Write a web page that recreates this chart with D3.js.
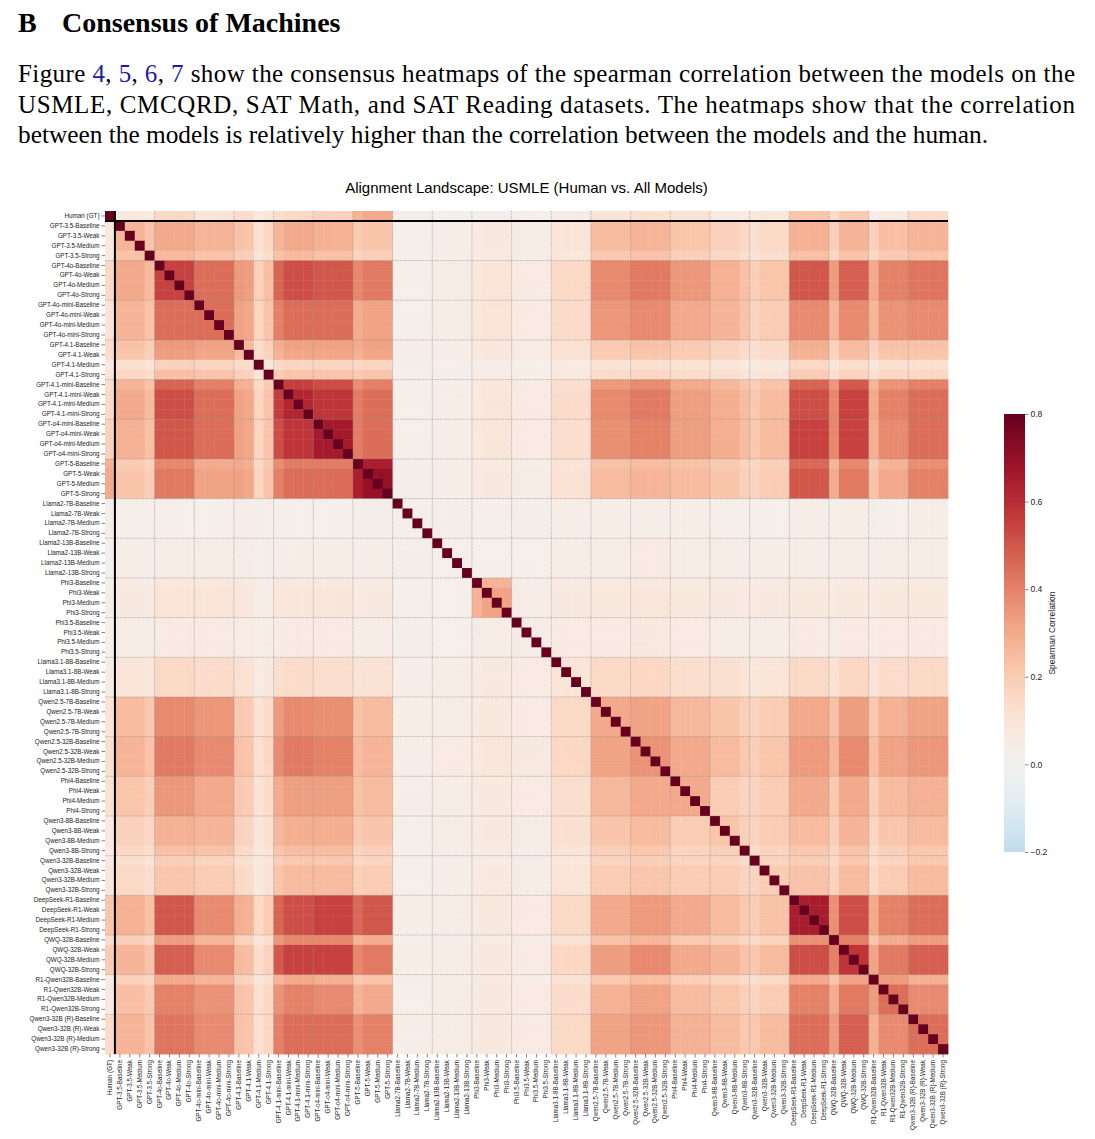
<!DOCTYPE html>
<html>
<head>
<meta charset="utf-8">
<script src="https://cdn.jsdelivr.net/npm/d3@7"></script>
<style>
  html, body { margin: 0; padding: 0; background: #fff; }
  svg { display: block; }
</style>
</head>
<body>
<div id="chart"></div>
<script>
// ---------- data ----------
const groups = ["Human (GT)", "GPT-3.5", "GPT-4o", "GPT-4o-mini", "GPT-4.1", "GPT-4.1-mini", "GPT-o4-mini", "GPT-5",
  "Llama2-7B", "Llama2-13B", "Phi3", "Phi3.5", "Llama3.1-8B", "Qwen2.5-7B", "Qwen2.5-32B", "Phi4",
  "Qwen3-8B", "Qwen3-32B", "DeepSeek-R1", "QWQ-32B", "R1-Qwen32B", "Qwen3-32B (R)"];
const levels = ["Baseline", "Weak", "Medium", "Strong"];

// group-to-group mean Spearman correlation (lower triangle)
const groupCorrLower = [
  [1.00],
  [0.08, 0.27],
  [0.15, 0.30, 0.55],
  [0.10, 0.27, 0.45, 0.45],
  [0.12, 0.20, 0.30, 0.28, 0.20],
  [0.15, 0.30, 0.52, 0.45, 0.28, 0.62],
  [0.18, 0.28, 0.50, 0.45, 0.28, 0.58, 0.66],
  [0.30, 0.22, 0.42, 0.32, 0.28, 0.45, 0.45, 0.70],
  [0.02, 0.03, 0.03, 0.03, 0.03, 0.03, 0.03, 0.02, 0.03],
  [0.01, 0.04, 0.05, 0.05, 0.04, 0.04, 0.04, 0.04, 0.02, 0.03],
  [0.02, 0.07, 0.10, 0.10, 0.07, 0.09, 0.09, 0.07, 0.03, 0.03, 0.32],
  [0.03, 0.05, 0.06, 0.06, 0.05, 0.06, 0.06, 0.05, 0.02, 0.03, 0.05, 0.05],
  [0.05, 0.10, 0.15, 0.14, 0.10, 0.14, 0.13, 0.11, 0.04, 0.05, 0.07, 0.06, 0.10],
  [0.10, 0.25, 0.38, 0.35, 0.18, 0.38, 0.37, 0.25, 0.04, 0.05, 0.08, 0.06, 0.15, 0.30],
  [0.12, 0.27, 0.42, 0.38, 0.20, 0.42, 0.40, 0.27, 0.04, 0.06, 0.09, 0.07, 0.16, 0.32, 0.36],
  [0.11, 0.22, 0.35, 0.30, 0.18, 0.33, 0.33, 0.25, 0.04, 0.05, 0.08, 0.06, 0.13, 0.26, 0.30, 0.30],
  [0.06, 0.18, 0.28, 0.27, 0.15, 0.29, 0.29, 0.22, 0.03, 0.05, 0.07, 0.05, 0.12, 0.22, 0.25, 0.20, 0.22],
  [0.09, 0.15, 0.22, 0.20, 0.13, 0.25, 0.25, 0.20, 0.03, 0.04, 0.07, 0.05, 0.10, 0.20, 0.22, 0.20, 0.20, 0.20],
  [0.22, 0.28, 0.50, 0.38, 0.25, 0.52, 0.55, 0.50, 0.04, 0.05, 0.08, 0.06, 0.15, 0.30, 0.34, 0.30, 0.25, 0.23, 0.65],
  [0.20, 0.27, 0.48, 0.38, 0.22, 0.55, 0.55, 0.42, 0.04, 0.05, 0.08, 0.06, 0.16, 0.33, 0.38, 0.30, 0.27, 0.25, 0.52, 0.58],
  [0.06, 0.24, 0.40, 0.36, 0.20, 0.40, 0.38, 0.30, 0.03, 0.05, 0.08, 0.06, 0.14, 0.28, 0.32, 0.25, 0.22, 0.20, 0.40, 0.42, 0.45],
  [0.14, 0.27, 0.43, 0.38, 0.20, 0.45, 0.45, 0.40, 0.04, 0.05, 0.08, 0.06, 0.15, 0.32, 0.35, 0.28, 0.25, 0.25, 0.45, 0.48, 0.38, 0.45]
];

// models whose rows/columns read visibly lighter or darker than their block
const modelWeights = [
  ["GPT-3.5-Strong", 0.85],
  ["GPT-4.1-Baseline", 1.15],
  ["GPT-4.1-Weak", 1.1],
  ["GPT-4.1-Medium", 0.6],
  ["GPT-4.1-Strong", 0.8],
  ["GPT-4.1-mini-Baseline", 0.9],
  ["GPT-5-Baseline", 0.92],
  ["Phi3-Baseline", 0.85],
  ["Qwen3-8B-Strong", 0.85],
  ["Qwen3-32B-Baseline", 0.85],
  ["QWQ-32B-Baseline", 0.7],
  ["R1-Qwen32B-Baseline", 0.75]
];

const colorTicks = [-0.2, 0.0, 0.2, 0.4, 0.6, 0.8];
const titleText = "Alignment Landscape: USMLE (Human vs. All Models)";

// ---------- derived ----------
const models = [];
const modelGroup = [];
groups.forEach((g, gi) => {
  if (gi === 0) { models.push(g); modelGroup.push(0); }
  else levels.forEach(l => { models.push(g + "-" + l); modelGroup.push(gi); });
});
const wMap = new Map(modelWeights);
const gc = (a, b) => a >= b ? groupCorrLower[a][b] : groupCorrLower[b][a];
const cells = [];
models.forEach((mi, i) => models.forEach((mj, j) => {
  const v = i === j ? 1 : gc(modelGroup[i], modelGroup[j]) * (wMap.get(mi) || 1) * (wMap.get(mj) || 1);
  cells.push({ r: mi, c: mj, v });
}));

// ---------- drawing ----------
const W = 1095, H = 1139;
const svg = d3.select("#chart").append("svg").attr("width", W).attr("height", H);

// header text
const serif = "'Liberation Serif', 'Times New Roman', serif";
svg.append("text").attr("x", 18).attr("y", 32).attr("font-family", serif).attr("font-weight", "bold")
  .attr("font-size", 28).text("B");
svg.append("text").attr("x", 62).attr("y", 32).attr("font-family", serif).attr("font-weight", "bold")
  .attr("font-size", 28).text("Consensus of Machines");

const blue = "#1c1ca8";
const pSize = 25;
const l1 = svg.append("text").attr("x", 18).attr("y", 82).attr("font-family", serif).attr("font-size", pSize)
  .attr("textLength", 1057).attr("lengthAdjust", "spacing");
l1.append("tspan").text("Figure ");
l1.append("tspan").attr("fill", blue).text("4");
l1.append("tspan").text(", ");
l1.append("tspan").attr("fill", blue).text("5");
l1.append("tspan").text(", ");
l1.append("tspan").attr("fill", blue).text("6");
l1.append("tspan").text(", ");
l1.append("tspan").attr("fill", blue).text("7");
l1.append("tspan").text(" show the consensus heatmaps of the spearman correlation between the models on the");
svg.append("text").attr("x", 18).attr("y", 113).attr("font-family", serif).attr("font-size", pSize)
  .attr("textLength", 1057).attr("lengthAdjust", "spacing")
  .text("USMLE, CMCQRD, SAT Math, and SAT Reading datasets.  The heatmaps show that the correlation");
svg.append("text").attr("x", 18).attr("y", 143).attr("font-family", serif).attr("font-size", pSize)
  .attr("textLength", 970).attr("lengthAdjust", "spacingAndGlyphs")
  .text("between the models is relatively higher than the correlation between the models and the human.");

// heatmap
const sans = "'Liberation Sans', Arial, Helvetica, sans-serif";
const x0 = 105, x1 = 948, y0 = 211, y1 = 1054;
const x = d3.scaleBand().domain(models).range([x0, x1]);
const y = d3.scaleBand().domain(models).range([y0, y1]);
const color = v => {
  const c = Math.max(-0.2, Math.min(0.8, v));
  return d3.interpolateRdBu(1 - (0.5 + c * 0.625));
};

svg.append("text").attr("x", (x0 + x1) / 2).attr("y", 193).attr("text-anchor", "middle")
  .attr("font-family", sans).attr("font-size", 15).text(titleText);

svg.append("g").selectAll("rect").data(cells).join("rect")
  .attr("x", d => x(d.c)).attr("y", d => y(d.r))
  .attr("width", x.bandwidth() + 0.4).attr("height", y.bandwidth() + 0.4)
  .attr("fill", d => color(d.v));

// group separators
const bounds = [];
for (let i = 5; i < models.length; i += 4) bounds.push(i);
const sep = svg.append("g").attr("stroke", "#8a8a8a").attr("stroke-width", 0.7)
  .attr("stroke-dasharray", "1.5,1").attr("opacity", 0.75);
bounds.forEach(b => {
  const p = x0 + b * x.bandwidth();
  const q = y0 + b * y.bandwidth();
  sep.append("line").attr("x1", x0).attr("x2", x1).attr("y1", q).attr("y2", q);
  sep.append("line").attr("x1", p).attr("x2", p).attr("y1", y0).attr("y2", y1);
});
// human separator
svg.append("line").attr("x1", x0).attr("x2", x1).attr("y1", y0 + y.bandwidth()).attr("y2", y0 + y.bandwidth())
  .attr("stroke", "#000").attr("stroke-width", 2);
svg.append("line").attr("x1", x0 + x.bandwidth()).attr("x2", x0 + x.bandwidth()).attr("y1", y0).attr("y2", y1)
  .attr("stroke", "#000").attr("stroke-width", 2);

// axes
const yAxis = svg.append("g").attr("transform", `translate(${x0},0)`)
  .call(d3.axisLeft(y).tickSize(3.5).tickPadding(2));
const xAxis = svg.append("g").attr("transform", `translate(0,${y1})`)
  .call(d3.axisBottom(x).tickSize(3.5).tickPadding(2));
[yAxis, xAxis].forEach(a => {
  a.select(".domain").remove();
  a.selectAll(".tick line").attr("stroke", "#333").attr("stroke-width", 0.6);
  a.selectAll(".tick text").attr("font-family", sans).attr("font-size", 6.3).attr("fill", "#222");
});
xAxis.selectAll(".tick text").attr("transform", "rotate(-90)").attr("text-anchor", "end")
  .attr("x", -6).attr("y", 0).attr("dy", "0.32em");

// colorbar
const cbX = 1004, cbW = 21, cbTop = 414, cbBot = 852;
const cy = d3.scaleLinear().domain([-0.2, 0.8]).range([cbBot, cbTop]);
const defs = svg.append("defs");
const grad = defs.append("linearGradient").attr("id", "cb").attr("x1", 0).attr("x2", 0).attr("y1", 1).attr("y2", 0);
d3.range(0, 1.0001, 0.02).forEach(t => {
  const v = -0.2 + t;
  grad.append("stop").attr("offset", t).attr("stop-color", color(v));
});
svg.append("rect").attr("x", cbX).attr("y", cbTop).attr("width", cbW).attr("height", cbBot - cbTop).attr("fill", "url(#cb)");
const cAxis = svg.append("g").attr("transform", `translate(${cbX + cbW},0)`)
  .call(d3.axisRight(cy).tickValues(colorTicks).tickFormat(d3.format(".1f")).tickSize(3.5).tickPadding(2));
cAxis.select(".domain").remove();
cAxis.selectAll(".tick line").attr("stroke", "#333").attr("stroke-width", 0.6);
cAxis.selectAll(".tick text").attr("font-family", sans).attr("font-size", 8.5).attr("fill", "#222");
svg.append("text").attr("transform", `translate(1055,${(cbTop + cbBot) / 2}) rotate(-90)`)
  .attr("text-anchor", "middle").attr("font-family", sans).attr("font-size", 8.5).attr("fill", "#222")
  .text("Spearman Correlation");
</script>
</body>
</html>
